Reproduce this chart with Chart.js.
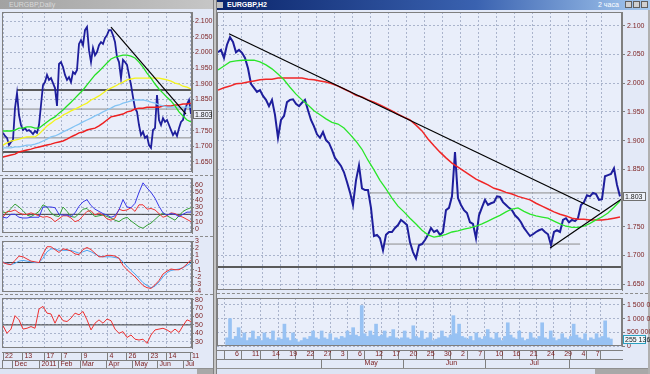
<!DOCTYPE html>
<html><head><meta charset="utf-8">
<script src="https://cdn.jsdelivr.net/npm/chart.js@4.4.1/dist/chart.umd.min.js"></script>
<style>
html,body{margin:0;padding:0;}
body{width:650px;height:374px;position:relative;overflow:hidden;background:#e3e9f7;font-family:"Liberation Sans",Arial,sans-serif;}
canvas{position:absolute;}
.d{position:absolute;box-sizing:border-box;}
</style></head><body>
<div class="d" style="left:0;top:0;width:213px;height:9px;background:linear-gradient(90deg,#a2a2a2,#c6c6c6);color:#d9d9d9;font-size:7px;line-height:9px;padding-left:9px;">EURGBP,Daily</div>
<div class="d" style="left:215px;top:0;width:435px;height:10px;background:linear-gradient(90deg,#0a246a,#3a62b0 60%,#a6caf0);color:#fff;font-size:7px;font-weight:bold;line-height:10px;padding-left:12px;">EURGBP,H2</div>
<div class="d" style="left:217px;top:2px;width:6px;height:6px;background:#c0c0c0;"></div>
<div class="d" style="left:598px;top:0;width:30px;height:10px;color:#fff;font-size:7px;line-height:10px;">2 часа</div>
<div class="d" style="left:625px;top:1px;width:7px;height:7px;background:#d0d0d0;border:1px solid #606060;"></div>
<div class="d" style="left:633px;top:1px;width:7px;height:7px;background:#d0d0d0;border:1px solid #606060;"></div>
<div class="d" style="left:641px;top:1px;width:7px;height:7px;background:#d0d0d0;border:1px solid #606060;"></div>
<div class="d" style="left:213px;top:0;width:4px;height:374px;background:#c4c4c4;border-left:1px solid #808080;border-right:1px solid #808080;"></div>
<div class="d" style="left:648px;top:10px;width:2px;height:364px;background:#b0b0b0;"></div>
<div class="d" style="left:0;top:175px;width:213px;height:1px;border-top:1px dashed #8c8c8c;"></div>
<div class="d" style="left:0;top:236px;width:213px;height:1px;border-top:1px dashed #8c8c8c;"></div>
<div class="d" style="left:0;top:294px;width:213px;height:1px;border-top:1px dashed #8c8c8c;"></div>
<div class="d" style="left:217px;top:293px;width:431px;height:1px;border-top:1px dashed #8c8c8c;"></div>

<canvas id="cLM" width="213" height="164" style="left:0;top:10px"></canvas>
<canvas id="cADX" width="213" height="60" style="left:0;top:176px"></canvas>
<canvas id="cMACD" width="213" height="56" style="left:0;top:238px"></canvas>
<canvas id="cRSI" width="213" height="72" style="left:0;top:296px"></canvas>
<canvas id="cRM" width="433" height="282" style="left:217px;top:10px"></canvas>
<canvas id="cVOL" width="433" height="72" style="left:217px;top:296px"></canvas>

<div class="d" style="left:0;top:368px;width:213px;height:6px;border-top:1px solid #909090;background:#dde4f4;"></div>
<div class="d" style="left:197px;top:369px;width:16px;height:5px;background:#a8a8a8;"></div>
<div class="d" style="left:217px;top:368px;width:431px;height:6px;border-top:1px solid #909090;background:#dde4f4;"></div>
<div class="d" style="left:595px;top:369px;width:53px;height:5px;background:#a8a8a8;"></div>

<script>
// ================= LEFT WINDOW (daily) =================
const leftPrice = [1.743,1.733,1.727,1.704,1.714,1.720,1.822,1.870,1.800,1.768,
1.752,1.758,1.749,1.752,1.746,1.739,1.749,1.743,1.768,1.832,
1.896,1.905,1.928,1.912,1.918,1.902,1.886,1.829,1.963,1.969,
1.953,1.928,1.912,1.921,1.905,1.937,1.931,1.944,2.027,2.039,
2.023,2.071,2.081,2.007,1.969,2.014,1.991,2.001,2.023,2.033,
2.027,2.046,2.055,2.071,2.071,2.055,2.033,1.985,1.969,1.918,
1.976,1.969,1.960,1.928,1.896,1.857,1.822,1.810,1.768,1.736,
1.746,1.727,1.733,1.704,1.695,1.752,1.758,1.864,1.784,1.768,
1.790,1.778,1.784,1.768,1.752,1.736,1.746,1.733,1.758,1.778,
1.784,1.816,1.835,1.848,1.803];
// moving averages, one value every 2nd bar
const leftMaGreen = [1.749,1.749,1.749,1.752,1.758,1.758,1.762,1.762,1.758,1.758,
1.768,1.778,1.787,1.794,1.806,1.816,1.829,1.841,1.854,1.867,
1.880,1.896,1.912,1.928,1.940,1.953,1.966,1.979,1.985,1.988,
1.991,1.991,1.988,1.982,1.969,1.953,1.934,1.918,1.899,1.883,
1.870,1.857,1.845,1.829,1.810,1.797,1.784,1.778];
const leftMaYellow = [1.704,1.711,1.717,1.720,1.723,1.727,1.730,1.730,1.730,1.739,
1.752,1.765,1.774,1.784,1.790,1.800,1.806,1.813,1.819,1.825,
1.832,1.838,1.848,1.854,1.861,1.870,1.880,1.886,1.892,1.899,
1.905,1.912,1.915,1.918,1.918,1.918,1.918,1.918,1.918,1.918,
1.915,1.912,1.908,1.902,1.899,1.892,1.889,1.883];
const leftMaBlue = [1.695,1.695,1.695,1.698,1.698,1.701,1.704,1.704,1.707,1.711,
1.717,1.723,1.730,1.733,1.739,1.746,1.752,1.758,1.765,1.771,
1.778,1.784,1.790,1.797,1.803,1.810,1.816,1.822,1.829,1.832,
1.838,1.841,1.845,1.848,1.848,1.848,1.845,1.841,1.838,1.832,
1.829,1.825,1.825,1.825,1.825,1.825,1.825,1.825];
const leftMaRed = [1.666,1.669,1.672,1.675,1.682,1.685,1.688,1.691,1.695,1.698,
1.701,1.704,1.707,1.711,1.714,1.717,1.723,1.730,1.736,1.743,
1.746,1.752,1.755,1.758,1.765,1.774,1.784,1.794,1.797,1.800,
1.803,1.810,1.813,1.819,1.822,1.822,1.825,1.825,1.825,1.825,
1.829,1.829,1.829,1.832,1.832,1.835,1.835,1.838];
const leftTrendBars = [54, 91.5];
const leftTrendVals = [2.081, 1.803];
const leftLevelVals = [1.880, 1.819, 1.727, 1.682];
const leftLevelFrom = [7, -0.5, -0.5, -0.5];
const leftLevelTo = [94.5, 94.5, 94.5, 94.5];
const leftLevelBold = [true, false, false, true];
// indicators, one value every 2nd bar
const adxBlue = [16,15,20,20,16,15,15,16,16,16,30,30,30,29,20,19,19,17,22,31,37,40,32,27,24,21,19,16,18,26,40,30,29,35,50,63,56,50,42,31,22,19,21,20,17,20,23,23];
const adxRed = [16,24,24,26,22,20,20,22,20,18,16,17,15,10,14,18,18,15,10,12,18,24,25,19,22,19,14,12,15,27,25,26,29,24,33,33,27,28,26,21,16,18,22,21,18,16,13,10];
const adxGreen = [23,22,28,34,30,25,19,17,20,24,33,30,22,18,17,30,24,17,16,21,27,28,22,17,18,19,17,15,12,10,14,16,11,7,3,1,5,8,13,18,22,18,15,12,18,24,27,29];
const macdMain = [0,-0.2,-0.3,0.3,0.9,0.8,0.5,0.2,0.1,0,1.2,2.2,2.2,1.8,1.4,1.9,1.8,1.6,1.2,1.1,1.8,2.1,1.8,1.3,0.8,0.8,1.0,1.0,0.9,0.6,-0.4,-1.0,-1.5,-2.0,-2.6,-3.2,-3.5,-3.6,-3.1,-2.5,-1.6,-1.2,-0.9,-1.0,-1.0,-0.7,-0.2,0.4];
const macdSignal = [0,-0.1,-0.3,-0.1,0.2,0.3,0.2,0.1,0,0,0.6,1.5,1.9,1.9,1.7,1.7,1.7,1.7,1.5,1.3,1.5,1.7,1.5,1.2,0.9,0.8,0.8,0.8,0.7,0.6,0.1,-0.5,-1.1,-1.6,-2.2,-2.8,-3.2,-3.5,-3.3,-2.7,-2.0,-1.4,-1.1,-1.0,-0.9,-0.7,-0.4,-0.1];
const rsiLine = [49,40,45,61,56,45,46,48,46,69,72,64,63,52,62,55,54,58,64,62,66,56,44,52,56,52,57,55,45,40,42,35,38,33,32,33,28,38,44,45,46,44,41,45,41,49,56,54];
const leftPriceTicks = [1.65,1.70,1.75,1.80,1.85,1.90,1.95,2.00,2.05,2.10];
const leftPriceTickLabels = ['1.650','1.700','1.750','','1.850','1.900','1.950','2.000','2.050','2.100'];
const adxTicks = [0,10,20,30,40,50,60];
const adxTickLabels = ['0','10','20','30','40','50','60'];
const macdTicks = [-4,-3,-2,-1,0,1,2,3];
const macdTickLabels = ['-4','-3','-2','-1','0','1','2','3'];
const rsiTicks = [30,40,50,60,70,80];
const rsiTickLabels = ['30','40','50','60','70','80'];
const leftDayTicks = [0,9.7,20.7,29.3,39.3,52.2,61.8,72.7,81.8,93.5];
const leftDayLabels = ['22','13','17','7','9','4','26','23','14','11'];
const leftMonthTicks = [-0.5,4.8,18.2,27.7,38.5,51.8,64.8,77.3,90.2];
const leftMonthLabels = ['','Dec','2011','Feb','Mar','Apr','May','Jun','Jul'];

// ================= RIGHT WINDOW (2 hours) =================
const rightPrice = [2.054,2.058,2.044,2.067,2.080,2.072,2.054,2.058,2.053,2.044,
2.026,1.999,1.992,1.985,1.988,1.978,1.971,1.960,1.971,1.945,
1.905,1.936,1.943,1.967,1.971,1.972,1.964,1.960,1.966,1.971,
1.953,1.936,1.925,1.911,1.905,1.915,1.901,1.896,1.884,1.870,
1.863,1.856,1.845,1.828,1.810,1.788,1.831,1.857,1.817,1.814,
1.814,1.783,1.734,1.736,1.730,1.709,1.736,1.741,1.741,1.748,
1.753,1.762,1.758,1.753,1.723,1.706,1.695,1.718,1.720,1.727,
1.736,1.748,1.741,1.744,1.736,1.741,1.779,1.783,1.803,1.880,
1.800,1.788,1.779,1.774,1.758,1.755,1.730,1.770,1.784,1.797,
1.788,1.791,1.793,1.803,1.802,1.793,1.788,1.783,1.779,1.770,
1.765,1.758,1.748,1.741,1.734,1.737,1.741,1.744,1.746,1.741,
1.737,1.718,1.741,1.744,1.741,1.762,1.765,1.758,1.762,1.760,
1.765,1.788,1.793,1.805,1.803,1.809,1.807,1.797,1.798,1.838,
1.840,1.842,1.852,1.823,1.803];
// moving averages, one value every 2nd bar
const rightMaRed = [1.988,1.992,1.995,1.999,2.000,2.002,2.004,2.006,2.007,2.007,
2.009,2.009,2.009,2.009,2.009,2.007,2.006,2.004,2.002,1.999,
1.995,1.990,1.985,1.979,1.976,1.971,1.967,1.962,1.957,1.952,
1.946,1.941,1.936,1.927,1.917,1.903,1.891,1.880,1.870,1.861,
1.854,1.847,1.840,1.833,1.828,1.823,1.817,1.814,1.810,1.807,
1.803,1.800,1.797,1.791,1.786,1.781,1.776,1.772,1.769,1.765,
1.763,1.763,1.762,1.762,1.762,1.763,1.765,1.767];
const rightMaGreen = [2.023,2.030,2.037,2.039,2.040,2.040,2.040,2.037,2.032,2.025,
2.016,2.006,1.993,1.981,1.971,1.962,1.952,1.945,1.938,1.932,
1.929,1.922,1.911,1.899,1.885,1.866,1.849,1.831,1.816,1.800,
1.786,1.776,1.765,1.755,1.744,1.736,1.732,1.734,1.737,1.741,
1.743,1.746,1.748,1.751,1.755,1.760,1.765,1.770,1.776,1.781,
1.783,1.777,1.772,1.769,1.767,1.765,1.760,1.755,1.751,1.749,
1.749,1.751,1.756,1.762,1.767,1.774,1.784,1.795];
// volume, thousands
const volume = [300,1000,250,350,670,300,480,200,300,550,
250,350,200,480,300,250,550,200,300,250,
800,300,200,480,250,150,200,300,250,350,
550,300,250,550,300,250,450,200,300,250,
350,300,550,400,670,400,350,1480,450,350,
550,400,800,350,400,550,300,350,600,300,
250,300,550,300,250,740,350,300,550,250,
300,480,200,250,300,550,350,300,400,1110,
450,800,350,300,250,350,200,480,300,250,
350,600,300,250,480,300,200,350,850,400,
300,250,550,300,200,250,480,300,250,350,
850,300,250,550,300,200,250,450,300,250,
350,800,400,300,250,450,200,300,250,450,
300,350,920,300,255.136];
const rightTrendDownBars = [3.67, 127.3];
const rightTrendDownVals = [2.086, 1.777];
const rightTrendUpBars = [110.7, 135];
const rightTrendUpVals = [1.713, 1.800];
const rightLevelVals = [1.809, 1.720, 1.680];
const rightLevelFrom = [50.7, 55, -0.4];
const rightLevelTo = [134.7, 120.7, 134.7];
const rightLevelBold = [false, false, true];
const rightPriceTicks = [1.65,1.70,1.75,1.80,1.85,1.90,1.95,2.00,2.05,2.10];
const rightPriceTickLabels = ['1.650','1.700','1.750','','1.850','1.900','1.950','2.000','2.050','2.100'];
const volTicks = [0,500,1000,1500];
const volTickLabels = ['0','500 000','1 000 000','1 500 000'];
const rightDayTicks = [2,8,15,21,27,33,39,45,51,57,63,69,75,81,87,93,99,105,111,117,123,128];
const rightDayLabels = ['6','11','14','19','22','27','3','6','12','17','20','25','30','2','7','10','16','21','24','29','4','7'];
const rightMonthTicks = [38.7,79.3,121.3];
const rightMonthLabels = ['May','Jun','Jul'];

// ================= helpers =================
const FONT = '"Liberation Sans", Arial, sans-serif';
const TICK = '#7a1c1c';
const GRID = '#aab4cc';
const AXIS = '#7f7f7f';
const PLOT_BG = '#e9eefa';
Chart.defaults.animation = false;
Chart.defaults.responsive = false;
Chart.defaults.events = [];
Chart.defaults.plugins.legend.display = false;
Chart.defaults.plugins.tooltip.enabled = false;
Chart.defaults.font.family = FONT;
Chart.defaults.font.size = 7;

const pts = (arr, step) => arr.map((v, i) => ({x: i * step, y: v}));
const seg = (xs, ys) => xs.map((x, i) => ({x: x, y: ys[i]}));
function line(data, color, width) {
  return {type: 'line', data: data, borderColor: color, backgroundColor: color, borderWidth: width,
    pointRadius: 0, fill: false, tension: 0, xAxisID: 'x', yAxisID: 'y'};
}
function levels(vals, from, to, bold) {
  return vals.map((v, i) => line(seg([from[i], to[i]], [v, v]), bold[i] ? '#5a5a5a' : '#8c8c8c', bold[i] ? 2 : 1));
}
function yAxis(min, max, ticks, labels, width, tl, pad) {
  return {type: 'linear', position: 'right', min: min, max: max,
    afterBuildTicks: s => { s.ticks = ticks.map(v => ({value: v})); },
    afterFit: s => { s.width = width; s.paddingTop = 0; s.paddingBottom = 0; },
    ticks: {callback: (v, i) => labels[i], color: TICK, font: {size: 7, family: FONT}, padding: pad, autoSkip: false},
    grid: {color: GRID, lineWidth: 1, drawTicks: true, tickLength: tl, tickColor: AXIS},
    border: {display: true, color: AXIS, dash: [2, 2]}};
}
function xGrid(min, max, ticks) {
  return {type: 'linear', position: 'bottom', min: min, max: max,
    afterBuildTicks: s => { s.ticks = ticks.map(v => ({value: v})); },
    afterFit: s => { s.height = 0; s.paddingLeft = 0; s.paddingRight = 0; },
    ticks: {display: false}, grid: {color: GRID, lineWidth: 1, drawTicks: false},
    border: {display: false, dash: [2, 2]}};
}
function xDates(min, max, ticks, labels, h, weight, inArea) {
  return {type: 'linear', position: 'bottom', min: min, max: max, weight: weight,
    afterBuildTicks: s => { s.ticks = ticks.map(v => ({value: v})); },
    afterFit: s => { s.height = h; s.paddingLeft = 0; s.paddingRight = 0; },
    ticks: {callback: (v, i) => labels[i], color: TICK, font: {size: 7, family: FONT}, align: 'start',
      labelOffset: 2, padding: -h, autoSkip: false, maxRotation: 0, minRotation: 0},
    grid: {drawOnChartArea: inArea, color: GRID, lineWidth: 1, drawTicks: true, tickLength: h, tickColor: AXIS},
    border: {display: true, color: AXIS, dash: [2, 2]}};
}
function xSpacer(min, max, h) {
  return {type: 'linear', position: 'bottom', min: min, max: max, weight: 0,
    afterBuildTicks: s => { s.ticks = [{value: min}]; },
    afterFit: s => { s.height = h; s.paddingLeft = 0; s.paddingRight = 0; },
    ticks: {display: false}, grid: {display: false}, border: {display: false}};
}
const frame = {
  id: 'frame',
  beforeDraw(chart) {
    const {ctx, chartArea: a} = chart;
    ctx.save(); ctx.fillStyle = PLOT_BG; ctx.fillRect(a.left, a.top, a.right - a.left, a.bottom - a.top); ctx.restore();
  },
  afterDraw(chart) {
    const {ctx, chartArea: a} = chart;
    ctx.save(); ctx.strokeStyle = AXIS; ctx.lineWidth = 1;
    ctx.strokeRect(a.left + 0.5, a.top + 0.5, a.right - a.left - 1, a.bottom - a.top - 1); ctx.restore();
  }
};
const lastLabel = {
  id: 'lastLabel',
  afterDraw(chart, args, o) {
    if (!o || !o.text) return;
    const {ctx, chartArea: a} = chart;
    const y = Math.round(chart.scales.y.getPixelForValue(o.value));
    const x0 = a.right + 1, h = 9;
    ctx.save();
    ctx.fillStyle = o.bg; ctx.fillRect(x0, y - 4, o.w, h);
    ctx.strokeStyle = o.border; ctx.lineWidth = 1; ctx.strokeRect(x0 + 0.5, y - 3.5, o.w - 1, h - 1);
    ctx.fillStyle = '#202020'; ctx.font = '7px ' + FONT; ctx.textBaseline = 'middle'; ctx.textAlign = 'left';
    ctx.fillText(o.text, x0 + 2, y + 1);
    ctx.restore();
  }
};
const fmtThousands = v => String(Math.round(v)).replace(/\B(?=(\d{3})+(?!\d))/g, ' ');

// ================= left charts =================
const LMIN = -0.5, LMAX = 94.5;
new Chart(document.getElementById('cLM'), {
  type: 'line',
  data: {datasets: [
    line(seg(leftTrendBars, leftTrendVals), '#000000', 1.2),
    line(pts(leftMaGreen, 2), '#22e022', 1.3),
    line(pts(leftMaYellow, 2), '#f4f41c', 1.3),
    line(pts(leftMaBlue, 2), '#84c4f4', 1.3),
    line(pts(leftMaRed, 2), '#ee2020', 1.5),
    line(pts(leftPrice, 1), '#1e1e9c', 1.8),
  ].concat(levels(leftLevelVals, leftLevelFrom, leftLevelTo, leftLevelBold))},
  options: {
    layout: {padding: {left: 2, top: 2, bottom: 2, right: 0}},
    scales: {x: xGrid(LMIN, LMAX, leftDayTicks), y: yAxis(1.618, 2.129, leftPriceTicks, leftPriceTickLabels, 21, 2, 1)},
    plugins: {lastLabel: {value: leftPrice[leftPrice.length - 1], text: leftPrice[leftPrice.length - 1].toFixed(3), w: 19, bg: '#eef1fa', border: '#707070'}}
  },
  plugins: [frame, lastLabel]
});
new Chart(document.getElementById('cADX'), {
  type: 'line',
  data: {datasets: [
    line(pts(adxBlue, 2), '#3a3ae8', 1),
    line(pts(adxRed, 2), '#ee3434', 1),
    line(pts(adxGreen, 2), '#36a036', 1),
    line(seg([LMIN, LMAX], [20, 20]), '#3c3c3c', 1)
  ]},
  options: {
    layout: {padding: {left: 2, top: 2, bottom: 3, right: 0}},
    scales: {x: xGrid(LMIN, LMAX, leftDayTicks), y: yAxis(-5.5, 69.6, adxTicks, adxTickLabels, 21, 2, 1)}
  },
  plugins: [frame]
});
new Chart(document.getElementById('cMACD'), {
  type: 'line',
  data: {datasets: [
    line(pts(macdMain, 2), '#ee3030', 1),
    line(pts(macdSignal, 2), '#4ea4f0', 1),
    line(seg([LMIN, LMAX], [0, 0]), '#3c3c3c', 1)
  ]},
  options: {
    layout: {padding: {left: 2, top: 3, bottom: 2, right: 0}},
    scales: {x: xGrid(LMIN, LMAX, leftDayTicks), y: yAxis(-4.1, 3.0, macdTicks, macdTickLabels, 21, 2, 1)}
  },
  plugins: [frame]
});
new Chart(document.getElementById('cRSI'), {
  type: 'line',
  data: {datasets: [
    line(pts(rsiLine, 2), '#ee3030', 1),
    line(seg([LMIN, LMAX], [50, 50]), '#3c3c3c', 1)
  ]},
  options: {
    layout: {padding: {left: 2, top: 2, bottom: 0, right: 0}},
    scales: {
      x: xDates(LMIN, LMAX, leftDayTicks, leftDayLabels, 8, 1, true),
      xs: xSpacer(LMIN, LMAX, 4),
      xm: xDates(LMIN, LMAX, leftMonthTicks, leftMonthLabels, 8, 2, false),
      y: yAxis(22.5, 82, rsiTicks, rsiTickLabels, 21, 2, 1)
    }
  },
  plugins: [frame]
});

// ================= right charts =================
const RMIN = -0.33, RMAX = 134.67;
new Chart(document.getElementById('cRM'), {
  type: 'line',
  data: {datasets: [
    line(seg(rightTrendDownBars, rightTrendDownVals), '#000000', 1.2),
    line(seg(rightTrendUpBars, rightTrendUpVals), '#000000', 1.2),
    line(pts(rightMaGreen, 2), '#2ae62a', 1.3),
    line(pts(rightMaRed, 2), '#f02626', 1.5),
    line(pts(rightPrice, 1), '#1e1e9c', 2),
  ].concat(levels(rightLevelVals, rightLevelFrom, rightLevelTo, rightLevelBold))},
  options: {
    layout: {padding: {left: 0, top: 2, bottom: 2, right: 0}},
    scales: {x: xGrid(RMIN, RMAX, rightDayTicks), y: yAxis(1.640, 2.124, rightPriceTicks, rightPriceTickLabels, 28, 3, 2)},
    plugins: {lastLabel: {value: rightPrice[rightPrice.length - 1], text: rightPrice[rightPrice.length - 1].toFixed(3), w: 23, bg: '#eef1fa', border: '#707070'}}
  },
  plugins: [frame, lastLabel]
});
new Chart(document.getElementById('cVOL'), {
  type: 'bar',
  data: {datasets: [{
    type: 'bar', data: pts(volume, 1), backgroundColor: '#98c2f3', borderWidth: 0,
    barThickness: 3, xAxisID: 'x', yAxisID: 'y'
  }]},
  options: {
    layout: {padding: {left: 0, top: 2, bottom: 0, right: 0}},
    scales: {
      x: xDates(RMIN, RMAX, rightDayTicks, rightDayLabels, 9, 1, true),
      xs: xSpacer(RMIN, RMAX, 4),
      xm: xDates(RMIN, RMAX, rightMonthTicks, rightMonthLabels, 9, 2, false),
      y: yAxis(0, 1756, volTicks, volTickLabels, 28, 3, 2)
    },
    plugins: {lastLabel: {value: volume[volume.length - 1], text: fmtThousands(volume[volume.length - 1] * 1000), w: 23, bg: '#eef6fb', border: '#2aa0c0'}}
  },
  plugins: [frame, lastLabel]
});
</script>
</body></html>
